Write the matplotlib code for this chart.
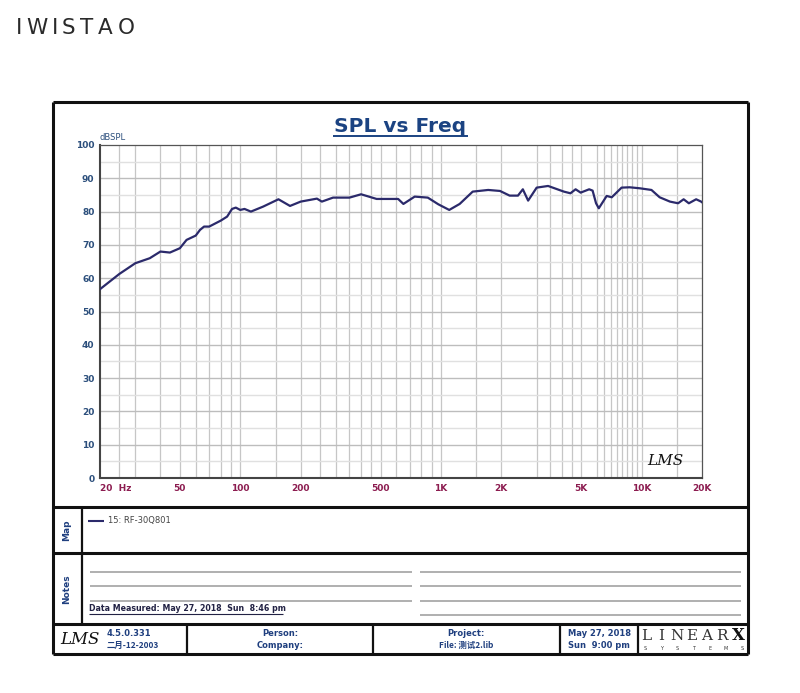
import matplotlib
matplotlib.use("Agg")
import matplotlib.pyplot as plt
from matplotlib.ticker import NullLocator
import numpy as np

plt.rcParams['font.family'] = ['DejaVu Sans', 'Noto Sans CJK SC']

freq = [20, 25, 30, 35.4, 40, 44.6, 50, 54, 60, 63, 66, 70, 80, 86, 91, 95,
        100, 105, 113, 130, 155, 177, 200, 241, 255, 290, 350, 400, 478, 558,
        612, 650, 740, 860, 970, 1100, 1240, 1440, 1720, 1970, 2200, 2420,
        2560, 2720, 3000, 3420, 4100, 4420, 4690, 4970, 5480, 5700, 5930,
        6120, 6700, 7100, 7950, 8720, 9800, 11200, 12300, 13850, 15200,
        16200, 17200, 18700, 19800, 20000]
spl = [56.7, 61.3, 64.5, 66.0, 68.0, 67.7, 69.0, 71.5, 72.8, 74.5, 75.5, 75.5,
       77.3, 78.5, 80.8, 81.2, 80.5, 80.8, 80.0, 81.5, 83.7, 81.7, 83.0, 83.9,
       83.0, 84.2, 84.2, 85.2, 83.8, 83.8, 83.8, 82.3, 84.5, 84.2, 82.2, 80.5,
       82.3, 86.0, 86.5, 86.2, 84.8, 84.8, 86.7, 83.3, 87.2, 87.7, 86.0, 85.5,
       86.7, 85.7, 86.7, 86.3, 82.5, 81.0, 84.7, 84.3, 87.2, 87.3, 87.0, 86.5,
       84.3, 83.0, 82.5, 83.7, 82.5, 83.7, 83.0, 82.8]

tick_freqs = [20, 50, 100, 200, 500, 1000, 2000, 5000, 10000, 20000]
tick_labels = ["20  Hz", "50", "100", "200", "500", "1K", "2K", "5K", "10K", "20K"]
grid_freqs = [25, 30, 40, 50, 60, 70, 80, 90, 100, 150, 200, 250, 300, 350,
              400, 450, 500, 600, 700, 800, 900, 1000, 1500, 2000, 3000, 3500,
              4000, 4500, 5000, 6000, 6500, 7000, 7500, 8000, 8500, 9000,
              9500, 10000, 15000]
y_ticks = list(range(0, 101, 10))

W, H = 800, 693
fig = plt.figure(figsize=(8, 6.93), dpi=100)
bg = fig.add_axes([0, 0, 1, 1])
bg.set_xlim(0, W)
bg.set_ylim(H, 0)
bg.axis('off')

navy = '#1f3f7f'

def seg(x0, y0, x1, y1, lw=2.2, c='#111111'):
    bg.plot([x0, x1], [y0, y1], color=c, lw=lw, solid_capstyle='butt')

# frame
seg(53, 102, 748, 102)
seg(53, 654, 748, 654)
seg(53, 102, 53, 654)
seg(748, 102, 748, 654)
seg(53, 507, 748, 507)
seg(53, 553, 748, 553)
seg(53, 624, 748, 624)
seg(82, 507, 82, 624, lw=1.6)
for xv in [187, 373, 560, 638]:
    seg(xv, 624, xv, 654, lw=1.6)

# notes lines
for yv in [571.5, 586, 600.5]:
    seg(90, yv, 412, yv, lw=1.1, c='#9a9a9a')
for yv in [571.5, 586, 600.5, 615]:
    seg(420, yv, 741, yv, lw=1.1, c='#9a9a9a')

# brand
for ch, xc in zip("IWISTAO", [19.5, 37, 55, 68.5, 86.5, 105, 126]):
    bg.text(xc, 28, ch, ha='center', va='center', fontsize=15.5, color='#2a2a2a')

# title
bg.text(400, 132, "SPL vs Freq", ha='center', va='baseline', fontsize=14.5,
        fontweight='bold', color='#1b4382')
seg(333, 135.5, 468, 135.5, lw=1.4, c='#1b4382')
bg.text(100, 142, "dBSPL", ha='left', va='bottom', fontsize=6, color='#2c4f7c')

# map / notes
bg.text(67, 530, "Map", rotation=90, ha='center', va='center', fontsize=6.5,
        fontweight='bold', color=navy)
bg.text(67, 589, "Notes", rotation=90, ha='center', va='center', fontsize=6.5,
        fontweight='bold', color=navy)
seg(88, 520.5, 104, 520.5, lw=1.5, c='#2b2a6b')
bg.text(108, 520.5, "15: RF-30Q801", ha='left', va='center', fontsize=6, color='#444444')
bg.text(89, 611, "Data Measured: May 27, 2018  Sun  8:46 pm", ha='left', va='baseline',
        fontsize=5.7, fontweight='bold', color='#222244')
seg(89, 614, 283, 614, lw=0.8, c='#222244')

# footer
bg.text(80, 639, "LMS", ha='center', va='center', fontsize=12, style='italic',
        family='DejaVu Serif', color='#111111')
bg.text(107, 634, "4.5.0.331", ha='left', va='center', fontsize=6, fontweight='bold', color=navy)
bg.text(107, 645, "二月-12-2003", ha='left', va='center', fontsize=6, fontweight='bold',
        color=navy, family=['Noto Sans CJK SC', 'DejaVu Sans'])
bg.text(280, 634, "Person:", ha='center', va='center', fontsize=6, fontweight='bold', color=navy)
bg.text(280, 645, "Company:", ha='center', va='center', fontsize=6, fontweight='bold', color=navy)
bg.text(466, 634, "Project:", ha='center', va='center', fontsize=6, fontweight='bold', color=navy)
bg.text(466, 645, "File: 测试2.lib", ha='center', va='center', fontsize=6, fontweight='bold',
        color=navy, family=['Noto Sans CJK SC', 'DejaVu Sans'])
bg.text(599, 634, "May 27, 2018", ha='center', va='center', fontsize=6, fontweight='bold', color=navy)
bg.text(599, 645, "Sun  9:00 pm", ha='center', va='center', fontsize=6, fontweight='bold', color=navy)
for ch, xc in zip("LINEAR", np.linspace(646, 722, 6)):
    bg.text(xc, 636, ch, ha='center', va='center', fontsize=11, family='DejaVu Serif',
            color='#333333')
bg.text(738, 636, "X", ha='center', va='center', fontsize=12, fontweight='bold',
        family='DejaVu Serif', color='#111111')
for ch, xc in zip("SYSTEMS", np.linspace(645, 742, 7)):
    bg.text(xc, 648.5, ch, ha='center', va='center', fontsize=3.5, color='#333333')

# chart
ax = fig.add_axes([100 / W, 1 - 478 / H, 602 / W, 333 / H])
ax.set_xscale('log')
ax.set_xlim(20, 20000)
ax.set_ylim(0, 100)
for f in grid_freqs:
    ax.axvline(f, color='#c6c6c6', lw=0.9, zorder=1)
for yv in range(5, 100, 5):
    ax.axhline(yv, color='#bdbdbd' if yv % 10 == 0 else '#e0e0e0', lw=1.0, zorder=1)

ax.plot(freq, spl, color='#2b2a6b', lw=1.6, zorder=3)

ax.xaxis.set_minor_locator(NullLocator())
ax.set_xticks(tick_freqs)
ax.set_xticklabels(tick_labels)
ax.set_yticks(y_ticks)
ax.tick_params(length=0)
ax.tick_params(axis='x', pad=4, labelsize=6.5, labelcolor='#8c1c50')
ax.tick_params(axis='y', pad=4, labelsize=6.5, labelcolor='#2c4f7c')
for lab in ax.get_xticklabels() + ax.get_yticklabels():
    lab.set_fontweight('bold')
ax.get_xticklabels()[0].set_ha('left')
for s in ['left', 'bottom']:
    ax.spines[s].set_linewidth(1.5)
    ax.spines[s].set_color('#444444')
for s in ['top', 'right']:
    ax.spines[s].set_linewidth(0.9)
    ax.spines[s].set_color('#555555')

ax.text(0.97, 0.03, "LMS", transform=ax.transAxes, ha='right', va='bottom',
        fontsize=11, style='italic', family='DejaVu Serif', color='#111111')

fig.savefig("out.png", dpi=100)
